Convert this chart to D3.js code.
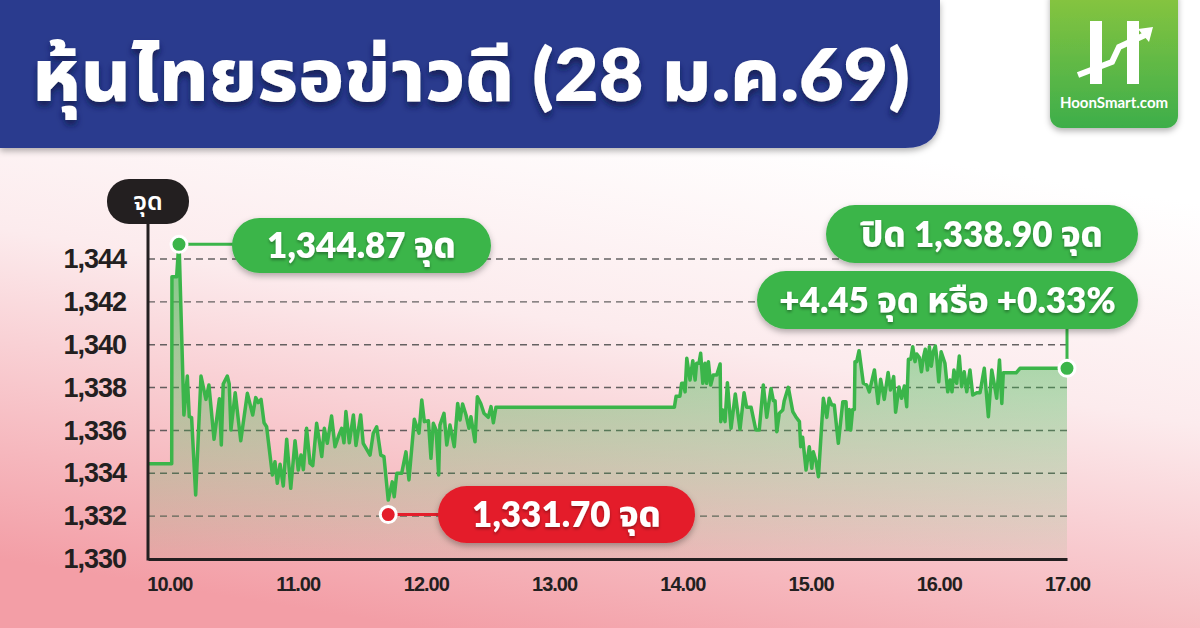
<!DOCTYPE html>
<html>
<head>
<meta charset="utf-8">
<script src="https://cdn.jsdelivr.net/npm/d3@7"></script>
<style>
  body { margin: 0; background: #fff; }
  svg { display: block; font-family: Lato, 'Noto Sans Thai', 'Noto Sans', sans-serif; }
</style>
</head>
<body>
<svg id="chart" width="1200" height="628"></svg>
<script>
// minutes after 10:00 and SET index
const minutes = [
  -10, 1.1, 1.2, 3.4, 4.5, 6.8, 8.4, 9.3, 10.4, 12.3, 14.8, 17.1, 18.5, 20.9, 23.4, 24.3, 25.2, 27.1, 28.0, 28.8,
  30.8, 33.4, 36.5, 39.0, 40.4, 41.6, 42.9, 44.3, 45.5, 48.2, 49.4, 50.5, 51.8, 53.3, 54.9, 56.8, 58.8, 60.3, 61.6, 62.7,
  64.2, 65.8, 67.1, 68.9, 71.3, 72.5, 73.9, 75.9, 77.5, 79.5, 80.6, 81.7, 82.6, 84.2, 86.1, 87.3, 89.5, 90.7, 92.0, 93.9,
  95.4, 97.0, 98.9, 100.4, 102.4, 104.3, 105.2, 106.4, 108.7, 110.7, 112.1, 114.6, 116.8, 118.1, 119.3, 121.2, 122.4, 123.5, 124.8, 126.0,
  126.6, 128.5, 129.8, 131.3, 133.3, 134.9, 136.0, 137.2, 138.8, 140.2, 141.1, 143.0, 144.1, 145.7, 147.2, 149.2, 150.5, 151.6, 152.8, 236.3,
  237.1, 238.9, 239.7, 240.5, 241.3, 242.1, 243.6, 244.9, 246.0, 246.7, 247.8, 248.6, 249.6, 250.6, 251.4, 252.2, 253.3, 254.5, 256.1, 257.7,
  258.0, 258.9, 260.0, 261.1, 262.8, 264.8, 267.0, 268.9, 270.1, 272.2, 274.4, 276.0, 277.9, 279.5, 281.5, 282.6, 283.4, 284.2, 285.4, 287.0,
  287.7, 289.6, 291.7, 293.1, 294.8, 295.4, 296.3, 297.9, 299.4, 300.6, 301.3, 302.6, 303.7, 306.0, 307.6, 308.7, 309.9, 311.1, 313.0, 315.1,
  316.6, 317.2, 318.1, 318.8, 319.7, 320.5, 320.8, 321.6, 322.7, 324.7, 326.3, 327.5, 329.9, 331.6, 332.8, 334.5, 336.3, 337.4, 338.9, 339.8,
  341.4, 342.6, 343.9, 345.0, 345.8, 346.9, 347.8, 348.9, 349.7, 350.9, 351.9, 352.8, 353.7, 354.7, 355.6, 356.5, 357.5, 358.4, 359.0, 360.0,
  361.1, 362.9, 364.2, 365.3, 366.2, 367.1, 368.4, 369.6, 370.7, 371.9, 373.1, 374.6, 375.9, 377.8, 379.3, 381.3, 383.2, 384.8, 385.9, 387.1,
  388.4, 389.5, 390.2, 396.2, 398.0, 420
];
const setIndex = [
  1334.45, 1334.45, 1343.17, 1343.17, 1344.87, 1336.72, 1338.54, 1336.64, 1336.6, 1332.99, 1338.54, 1337.45, 1338.12, 1335.59, 1337.48, 1335.32, 1338.17, 1338.54, 1338.17, 1336.02,
  1337.76, 1335.52, 1337.73, 1336.72, 1337.53, 1337.3, 1337.45, 1336.36, 1336.17, 1333.92, 1334.54, 1333.53, 1334.42, 1333.41, 1335.59, 1333.3, 1335.52, 1334.15, 1334.85, 1334.17,
  1336.1, 1334.47, 1334.36, 1336.33, 1334.78, 1336.1, 1335.4, 1336.67, 1335.24, 1335.83, 1336.1, 1335.42, 1336.88, 1335.42, 1336.72, 1335.3, 1336.72, 1335.4, 1335.17, 1334.85,
  1335.87, 1336.17, 1334.85, 1334.78, 1332.75, 1333.6, 1332.9, 1334.0, 1334.0, 1335.0, 1333.69, 1336.52, 1335.87, 1337.42, 1336.41, 1336.45, 1334.7, 1336.33, 1336.02, 1333.92,
  1336.25, 1336.8, 1335.32, 1336.25, 1335.24, 1337.26, 1336.49, 1337.23, 1336.72, 1336.1, 1336.64, 1335.47, 1337.57, 1337.26, 1336.8, 1336.61, 1337.11, 1336.36, 1337.08, 1337.08,
  1337.6, 1337.6, 1338.2, 1338.2, 1337.8, 1339.37, 1338.35, 1339.25, 1338.35, 1339.13, 1339.13, 1339.6, 1338.2, 1339.13, 1338.2, 1339.21, 1338.12, 1338.59, 1338.59, 1339.1,
  1336.41, 1336.95, 1336.41, 1338.23, 1336.1, 1337.7, 1336.05, 1337.76, 1337.08, 1337.08, 1336.02, 1336.02, 1338.12, 1336.61, 1337.96, 1337.39, 1337.39, 1335.94, 1336.8, 1336.95,
  1337.39, 1338.01, 1336.88, 1336.64, 1336.41, 1335.24, 1335.68, 1334.15, 1335.24, 1334.23, 1335.0, 1334.54, 1333.84, 1337.5, 1336.61, 1337.5, 1337.19, 1337.19, 1335.4, 1337.34,
  1337.34, 1336.05, 1336.98, 1336.02, 1336.98, 1336.98, 1339.21, 1339.21, 1339.72, 1338.2, 1338.12, 1337.8, 1338.82, 1337.26, 1338.39, 1337.45, 1338.7, 1337.89, 1338.51, 1336.85,
  1338.03, 1337.5, 1338.07, 1337.11, 1339.32, 1339.32, 1339.91, 1339.21, 1339.57, 1339.4, 1338.74, 1339.4, 1339.79, 1338.82, 1339.91, 1339.0, 1339.7, 1339.94, 1339.45, 1338.27,
  1339.67, 1339.13, 1337.8, 1338.35, 1337.8, 1338.82, 1338.2, 1339.47, 1338.04, 1338.74, 1337.8, 1338.82, 1337.65, 1337.76, 1337.76, 1338.9, 1336.64, 1338.82, 1338.2, 1337.5,
  1339.29, 1337.26, 1338.69, 1338.69, 1338.9, 1338.9
];

const yTicks = [1330, 1332, 1334, 1336, 1338, 1340, 1342, 1344];
const xTicks = [0, 60, 120, 180, 240, 300, 360, 420];
const xLabels = ['10.00', '11.00', '12.00', '13.00', '14.00', '15.00', '16.00', '17.00'];

const highValue = 1344.87;
const lowValue = 1331.70;
const closeValue = 1338.90;
const changePts = 4.45;
const changePct = 0.33;

const data = minutes.map((m, i) => ({ t: m, v: setIndex[i] }));

const svg = d3.select('#chart');
const defs = svg.append('defs');

// background
const bg = defs.append('linearGradient')
  .attr('id', 'bg')
  .attr('x1', 0.6).attr('y1', 0.2)
  .attr('x2', 0.35).attr('y2', 1);
bg.append('stop').attr('offset', 0).attr('stop-color', '#ffffff');
bg.append('stop').attr('offset', 0.4).attr('stop-color', '#fcebed');
bg.append('stop').attr('offset', 1).attr('stop-color', '#f39ea6');

const areaGrad = defs.append('linearGradient')
  .attr('id', 'areaGrad')
  .attr('gradientUnits', 'userSpaceOnUse')
  .attr('x1', 0).attr('y1', 240)
  .attr('x2', 0).attr('y2', 559);
areaGrad.append('stop').attr('offset', 0).attr('stop-color', '#3bb54a').attr('stop-opacity', 0.65);
areaGrad.append('stop').attr('offset', 1).attr('stop-color', '#3bb54a').attr('stop-opacity', 0.06);

const logoGrad = defs.append('linearGradient')
  .attr('id', 'logoGrad')
  .attr('x1', 0).attr('y1', 0)
  .attr('x2', 0).attr('y2', 1);
logoGrad.append('stop').attr('offset', 0).attr('stop-color', '#8cc63f');
logoGrad.append('stop').attr('offset', 1).attr('stop-color', '#3dae4a');

const shadow = defs.append('filter').attr('id', 'shadow')
  .attr('x', '-20%').attr('y', '-20%').attr('width', '140%').attr('height', '160%');
shadow.append('feDropShadow')
  .attr('dx', 0).attr('dy', 3).attr('stdDeviation', 3)
  .attr('flood-color', '#000').attr('flood-opacity', 0.3);

const titleShadow = defs.append('filter').attr('id', 'titleShadow')
  .attr('x', '-5%').attr('y', '-20%').attr('width', '110%').attr('height', '150%');
titleShadow.append('feDropShadow')
  .attr('dx', 0).attr('dy', 5).attr('stdDeviation', 3)
  .attr('flood-color', '#0a1248').attr('flood-opacity', 0.8);

const textShadow = defs.append('filter').attr('id', 'textShadow')
  .attr('x', '-10%').attr('y', '-20%').attr('width', '120%').attr('height', '150%');
textShadow.append('feDropShadow')
  .attr('dx', 0).attr('dy', 2).attr('stdDeviation', 1.5)
  .attr('flood-color', '#000').attr('flood-opacity', 0.35);

svg.append('rect')
  .attr('width', 1200)
  .attr('height', 628)
  .attr('fill', 'url(#bg)');

// header band
svg.append('path')
  .attr('d', 'M0,0 H940 V113 Q940,148 905,148 H0 Z')
  .attr('fill', '#293a8e')
  .attr('filter', 'url(#shadow)');

svg.append('text')
  .attr('x', 32)
  .attr('y', 101)
  .attr('fill', '#fff')
  .attr('font-size', 72)
  .attr('font-weight', 800)
  .attr('textLength', 878)
  .attr('lengthAdjust', 'spacingAndGlyphs')
  .attr('filter', 'url(#titleShadow)')
  .text('หุ้นไทยรอข่าวดี (28 ม.ค.69)');

// logo
const logo = svg.append('g');
logo.append('rect')
  .attr('x', 1050).attr('y', -14)
  .attr('width', 128).attr('height', 142)
  .attr('rx', 12)
  .attr('fill', 'url(#logoGrad)')
  .attr('filter', 'url(#shadow)');
logo.append('rect').attr('x', 1090).attr('y', 21).attr('width', 12).attr('height', 63).attr('fill', '#fff');
logo.append('rect').attr('x', 1127).attr('y', 21).attr('width', 12).attr('height', 63).attr('fill', '#fff');
logo.append('polyline')
  .attr('points', '1078,75 1112,62 1119,47 1145,35')
  .attr('fill', 'none')
  .attr('stroke', '#fff')
  .attr('stroke-width', 6)
  .attr('stroke-linejoin', 'miter');
logo.append('polygon')
  .attr('points', '1153,27 1138,29 1149,42')
  .attr('fill', '#fff');
logo.append('text')
  .attr('x', 1114)
  .attr('y', 108)
  .attr('text-anchor', 'middle')
  .attr('fill', '#fff')
  .attr('font-size', 15)
  .attr('font-weight', 700)
  .attr('font-family', 'Lato, sans-serif')
  .text('HoonSmart.com');

// scales
const xScale = d3.scaleLinear().domain([-10, 420]).range([148, 1067]);
const yScale = d3.scaleLinear().domain([1330, 1344]).range([559, 259]);

// grid
svg.append('g')
  .selectAll('line')
  .data(yTicks.filter(d => d > 1330))
  .join('line')
  .attr('x1', xScale(-10))
  .attr('x2', xScale(420))
  .attr('y1', d => yScale(d))
  .attr('y2', d => yScale(d))
  .attr('stroke', '#4a4a4a')
  .attr('stroke-opacity', 0.85)
  .attr('stroke-width', 1.4)
  .attr('stroke-dasharray', '7,5');

const area = d3.area()
  .x(d => xScale(d.t))
  .y0(yScale(1330))
  .y1(d => yScale(d.v));

const line = d3.line()
  .x(d => xScale(d.t))
  .y(d => yScale(d.v));

svg.append('path')
  .datum(data)
  .attr('d', area)
  .attr('fill', 'url(#areaGrad)');

svg.append('path')
  .datum(data)
  .attr('d', line)
  .attr('fill', 'none')
  .attr('stroke', '#3bb54a')
  .attr('stroke-width', 3.5)
  .attr('stroke-linejoin', 'round');

// axes
const xAxis = svg.append('g')
  .attr('transform', `translate(0,${yScale(1330)})`)
  .call(d3.axisBottom(xScale)
    .tickValues(xTicks)
    .tickFormat((d, i) => xLabels[i])
    .tickSize(0)
    .tickSizeOuter(0)
    .tickPadding(18));
xAxis.select('.domain').attr('stroke', '#231f20').attr('stroke-width', 3);
xAxis.selectAll('text')
  .attr('fill', '#231f20')
  .attr('font-size', 20)
  .attr('font-weight', 900)
  .attr('letter-spacing', -1);

const yAxis = svg.append('g')
  .attr('transform', `translate(${xScale(-10)},0)`)
  .call(d3.axisLeft(yScale)
    .tickValues(yTicks)
    .tickFormat(d3.format(','))
    .tickSize(0)
    .tickPadding(22));
yAxis.select('.domain').remove();
yAxis.selectAll('text')
  .attr('fill', '#231f20')
  .attr('font-size', 27)
  .attr('font-weight', 900)
  .attr('letter-spacing', -1);

svg.append('line')
  .attr('x1', xScale(-10)).attr('x2', xScale(-10))
  .attr('y1', 222).attr('y2', yScale(1330) + 1.5)
  .attr('stroke', '#231f20')
  .attr('stroke-width', 3);

// unit badge
svg.append('rect')
  .attr('x', 107).attr('y', 179)
  .attr('width', 82).attr('height', 45)
  .attr('rx', 22)
  .attr('fill', '#231f20');
svg.append('text')
  .attr('x', 148).attr('y', 210)
  .attr('text-anchor', 'middle')
  .attr('fill', '#fff')
  .attr('font-size', 25)
  .attr('font-weight', 600)
  .text('จุด');

// annotations
const fmt = d3.format(',.2f');
const green = '#3bb54a';
const red = '#e41e2b';

function pill(x, y, w, h, color, label, size) {
  svg.append('rect')
    .attr('x', x).attr('y', y)
    .attr('width', w).attr('height', h)
    .attr('rx', h / 2)
    .attr('fill', color)
    .attr('filter', 'url(#shadow)');
  svg.append('text')
    .attr('x', x + w / 2)
    .attr('y', y + h / 2)
    .attr('dy', '0.36em')
    .attr('text-anchor', 'middle')
    .attr('fill', '#fff')
    .attr('font-size', size)
    .attr('font-weight', 800)
    .attr('filter', 'url(#textShadow)')
    .text(label);
}

function marker(cx, cy, color) {
  svg.append('circle')
    .attr('cx', cx).attr('cy', cy)
    .attr('r', 8)
    .attr('fill', color)
    .attr('stroke', '#fff')
    .attr('stroke-width', 3);
}

const highPt = data.reduce((a, b) => (b.v > a.v ? b : a));
const lowPt = data.reduce((a, b) => (b.v < a.v ? b : a));
const lastPt = data[data.length - 1];

// high
svg.append('line')
  .attr('x1', xScale(highPt.t)).attr('x2', 240)
  .attr('y1', yScale(highValue) + 4).attr('y2', yScale(highValue) + 4)
  .attr('stroke', green).attr('stroke-width', 3);
pill(232, 218, 259, 55, green, fmt(highValue) + ' จุด', 35);
marker(xScale(highPt.t), yScale(highValue) + 4, green);

// low
svg.append('line')
  .attr('x1', xScale(lowPt.t)).attr('x2', 445)
  .attr('y1', yScale(lowValue) - 8).attr('y2', yScale(lowValue) - 8)
  .attr('stroke', red).attr('stroke-width', 3);
pill(438, 486, 257, 57, red, fmt(lowValue) + ' จุด', 35);
marker(xScale(lowPt.t), yScale(lowValue) - 8, red);

// close
svg.append('line')
  .attr('x1', xScale(lastPt.t)).attr('x2', xScale(lastPt.t))
  .attr('y1', yScale(closeValue)).attr('y2', 320)
  .attr('stroke', green).attr('stroke-width', 3);
pill(826, 205, 312, 58, green, 'ปิด ' + fmt(closeValue) + ' จุด', 35);
pill(757, 271, 381, 58, green, '+' + changePts.toFixed(2) + ' จุด หรือ +' + changePct.toFixed(2) + '%', 35);
marker(xScale(lastPt.t), yScale(closeValue), green);
</script>
</body>
</html>
